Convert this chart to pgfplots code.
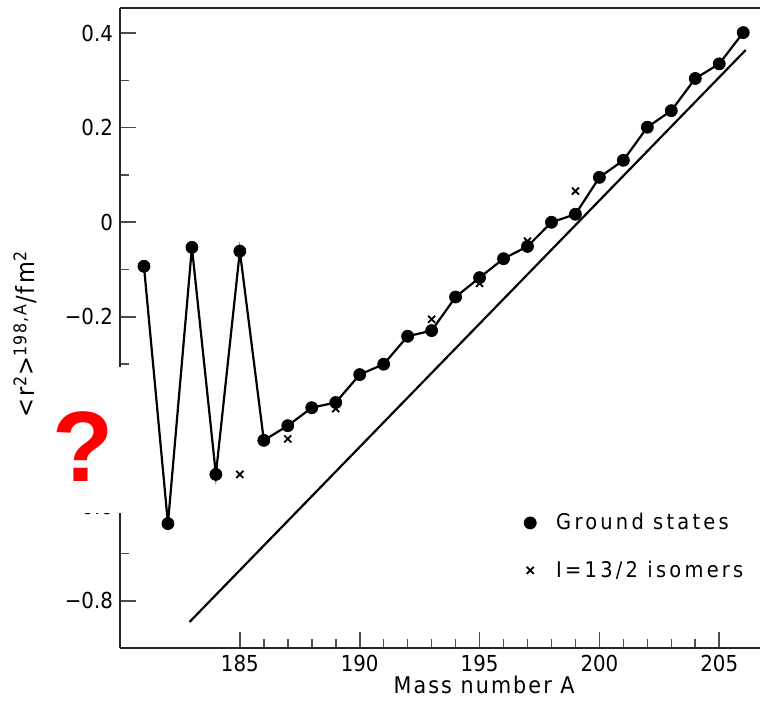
\documentclass[border=0pt]{standalone}
\usepackage{fontspec}
\setmainfont{DejaVu Sans Condensed}
\newfontfamily\lblfont{DejaVu Sans Condensed}[LetterSpace=9]
\newfontfamily\legfont{DejaVu Sans Condensed}[LetterSpace=15]
\newfontfamily\qfont{Liberation Sans}
\usepackage{pgfplots}
\usepackage{pgfplotstable}
\pgfplotsset{compat=1.18}

% ground states, delta <r^2>^{198,A} in fm^2
\pgfplotstableread{
A v
181 -0.093
182 -0.637
183 -0.053
184 -0.533
185 -0.061
186 -0.461
187 -0.430
188 -0.392
189 -0.381
190 -0.322
191 -0.300
192 -0.241
193 -0.229
194 -0.158
195 -0.117
196 -0.077
197 -0.051
198 0.000
199 0.017
200 0.095
201 0.131
202 0.201
203 0.236
204 0.304
205 0.335
206 0.401
}\ground

% I=13/2 isomers
\pgfplotstableread{
A v
185 -0.533
187 -0.458
189 -0.394
193 -0.205
195 -0.129
197 -0.040
199 0.066
}\isomers

% straight reference line
\pgfplotstableread{
A v
182.9 -0.845
206.1 0.364
}\refline

\begin{document}
\begin{tikzpicture}
\path[use as bounding box] (-60pt,-36pt) rectangle (320pt,324pt);
\begin{axis}[
    at={(0,0)}, anchor=south west,
    scale only axis,
    width=320pt, height=320pt,
    xmin=180, xmax=206.7,
    ymin=-0.9, ymax=0.453,
    axis x line=bottom, axis y line=left,
    axis line style={-, line width=0.9pt, black!85},
    tick align=inside,
    xtick={185,190,195,200,205},
    xticklabels={185,190,195,200,205},
    minor x tick num=4,
    ytick={-0.8,-0.6,-0.4,-0.2,0,0.2,0.4},
    yticklabels={−0.8,−0.6,,−0.2,0,0.2,0.4},
    minor y tick num=1,
    major tick length=8pt, minor tick length=4.5pt,
    every tick/.style={black!70, line width=0.8pt},
    ticklabel style={font=\fontsize{11}{13}\selectfont},
    xlabel={Mass number A},
    xlabel style={font=\lblfont\fontsize{11.5}{13}\selectfont, at={(rel axis cs:0.569,-0.058)}, anchor=center},
    ylabel={δ<r\textsuperscript{2}>\textsuperscript{198,A}/fm\textsuperscript{2}},
    ylabel style={font=\lblfont\fontsize{12.5}{14}\selectfont, at={(rel axis cs:-0.148,0.478)}, anchor=center, rotate=0},
    legend style={draw=none, fill=none, font=\legfont\fontsize{10.8}{13}\selectfont,
        at={(rel axis cs:0.631,0.2175)}, anchor=north west,
        row sep=10pt, inner sep=0pt,
        /tikz/every odd column/.append style={column sep=8pt}},
    legend cell align=left,
    clip=false,
]
\addplot[black, line width=1.1pt, forget plot] table[x=A, y=v] {\ground};
\addplot[only marks, mark=*, mark size=3pt, black] table[x=A, y=v] {\ground};
\addplot[only marks, mark=x, mark size=2.5pt, black, line width=0.9pt] table[x=A, y=v] {\isomers};
\addplot[black, line width=1.1pt, forget plot] table[x=A, y=v] {\refline};
\legend{Ground states, I=13/2 isomers}
\draw[line width=0.9pt, black!85] (rel axis cs:0,1) -- (rel axis cs:1,1);
\end{axis}
% white patch with the red question mark, drawn over the axis labels
\fill[white] (-40pt,67.5pt) rectangle (8pt,140.5pt);
\fill[white] (-60pt,67.5pt) rectangle (-38pt,114pt);
\node[text=red, font=\qfont\bfseries\fontsize{50}{50}\selectfont, anchor=center, inner sep=0pt]
    at (-18.6pt,100.5pt) {?};
\end{tikzpicture}
\end{document}
